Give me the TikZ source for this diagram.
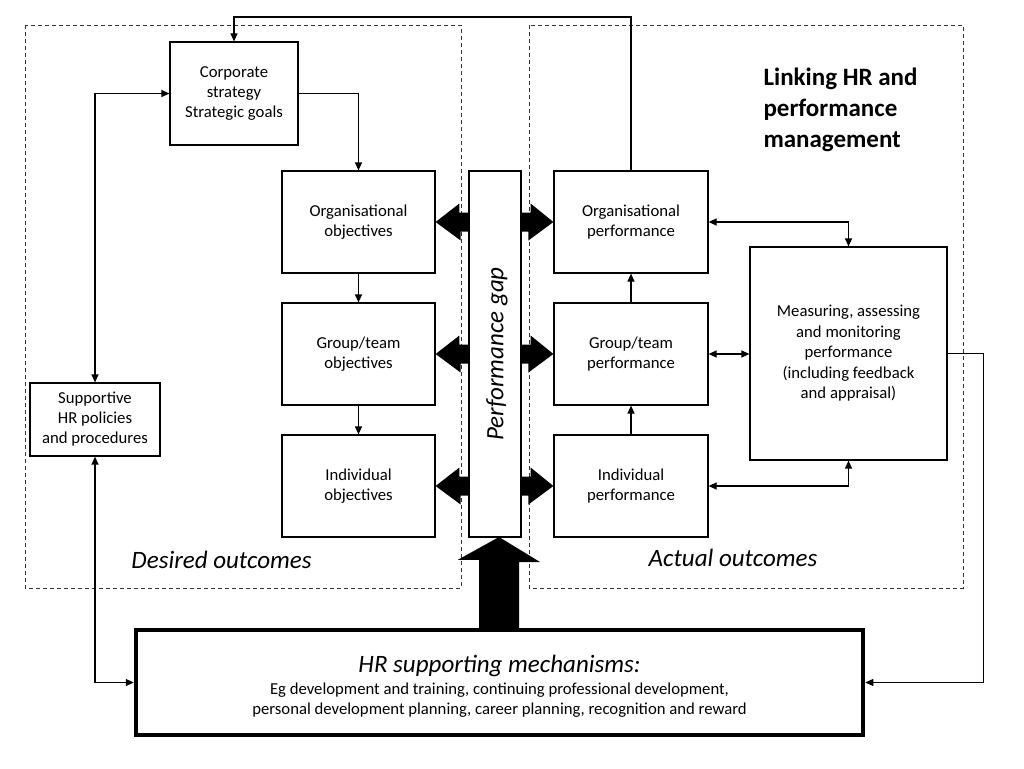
\documentclass[tikz,border=0pt]{standalone}
\usepackage{fontspec}
\setmainfont{Carlito}
\usetikzlibrary{arrows.meta,calc}
\begin{document}
\begin{tikzpicture}[x=1pt,y=-1pt,
  box/.style={draw,line width=1.2pt,inner sep=0pt,align=center,
    font=\fontsize{16.7}{20}\selectfont},
  arr/.style={line width=1.2pt,-{Triangle[length=8pt,width=7pt]}},
  arrtwo/.style={line width=1.2pt,{Triangle[length=8pt,width=7pt]}-{Triangle[length=8pt,width=7pt]}},
  region/.style={draw=black!80,line width=0.9pt,dash pattern=on 4pt off 3pt},
  biglabel/.style={font=\fontsize{25}{30}\selectfont\itshape},
  thick arrow/.style={fill=black}
]
\useasboundingbox (0,0) rectangle (1024,768);

% dashed regions
\draw[region] (25,25) rectangle (461,588);
\draw[region] (529,25) rectangle (963,588);

% left column
\node[box,minimum width=128pt,minimum height=103pt] (corp) at (234,93.5) {Corporate\\strategy\\Strategic goals};
\node[box,minimum width=153pt,minimum height=102pt] (oo) at (358.5,222) {Organisational\\objectives};
\node[box,minimum width=153pt,minimum height=102pt] (go) at (358.5,354) {Group/team\\objectives};
\node[box,minimum width=153pt,minimum height=102pt] (io) at (358.5,486) {Individual\\objectives};
\node[box,minimum width=130pt,minimum height=73pt] (sup) at (95,419.5) {Supportive\\HR policies\\and procedures};

% performance gap
\node[box,minimum width=52pt,minimum height=366pt] (pg) at (495,354) {};
\node[biglabel,rotate=90] (pgtext) at (497,354) {Performance gap};

% right column
\node[box,minimum width=154pt,minimum height=102pt] (op) at (631,222) {Organisational\\performance};
\node[box,minimum width=154pt,minimum height=102pt] (gp) at (631,354) {Group/team\\performance};
\node[box,minimum width=154pt,minimum height=102pt] (ip) at (631,486) {Individual\\performance};
\node[box,minimum width=197pt,minimum height=213pt,font=\fontsize{16.7}{20.5}\selectfont] (meas) at (848.5,353.5)
  {Measuring, assessing\\and monitoring\\performance\\(including feedback\\and appraisal)};

% HR box
\node[draw,line width=4.5pt,minimum width=727pt,minimum height=105pt,inner sep=0pt] (hr) at (499.5,682.5) {};
\node[align=center,font=\fontsize{16.7}{20}\selectfont] (hrtext) at ($(hr.center)+(0,3.5)$)
  {{\fontsize{25}{25}\selectfont\itshape HR supporting mechanisms:}\\[2pt]
   Eg development and training, continuing professional development,\\
   personal development planning, career planning, recognition and reward};

% labels
\node[anchor=west,align=left,font=\fontsize{25}{31}\selectfont\bfseries] (title) at (760,110)
  {Linking HR and\\performance\\management};
\node[biglabel] (desired) at (221.5,560) {Desired outcomes};
\node[biglabel] (actual) at (733,558) {Actual outcomes};

% thin connectors
\coordinate (topy) at (0,17);
\draw[arr] (op.north) -- (op.north |- topy) -| (corp.north);
\draw[arr] (corp.east) -| (oo.north);
\draw[arrtwo] (sup.north) |- (corp.west);
\draw[arr] (oo.south) -- (go.north);
\draw[arr] (go.south) -- (io.north);
\draw[arr] (ip.north) -- (gp.south);
\draw[arr] (gp.north) -- (op.south);
\draw[arrtwo] (op.east) -| (meas.north);
\draw[arrtwo] (gp.east) -- (gp.east -| meas.west);
\draw[arrtwo] (ip.east) -| (meas.south);
\draw[arrtwo] (sup.south) |- (hr.west);
\draw[arr] (meas.east) -- ++(36,0) |- (hr.east);

% thick arrows from performance gap
\foreach \t in {oo,go,io}{
  \fill[thick arrow] ($(pg.west |- \t.east)+(0,-9.5)$) -- ++(-9,0) -- ++(0,-9) -- (\t.east)
    -- ++(25,18.5) -- ++(0,-9) -- ($(pg.west |- \t.east)+(0,9.5)$) -- cycle;
}
\foreach \t in {op,gp,ip}{
  \fill[thick arrow] ($(pg.east |- \t.west)+(0,-9.5)$) -- ++(9,0) -- ++(0,-9) -- (\t.west)
    -- ++(-25,18.5) -- ++(0,-9) -- ($(pg.east |- \t.west)+(0,9.5)$) -- cycle;
}
% big arrow from HR box up to the gap
\coordinate (bigtip) at (499,537);
\fill[thick arrow] ($(hr.north -| bigtip)+(-20,0)$) -- ++(0,-68) -- ++(-21,0) -- (bigtip)
  -- ++(41,25) -- ++(-21,0) -- ($(hr.north -| bigtip)+(20,0)$) -- cycle;
\end{tikzpicture}
\end{document}
